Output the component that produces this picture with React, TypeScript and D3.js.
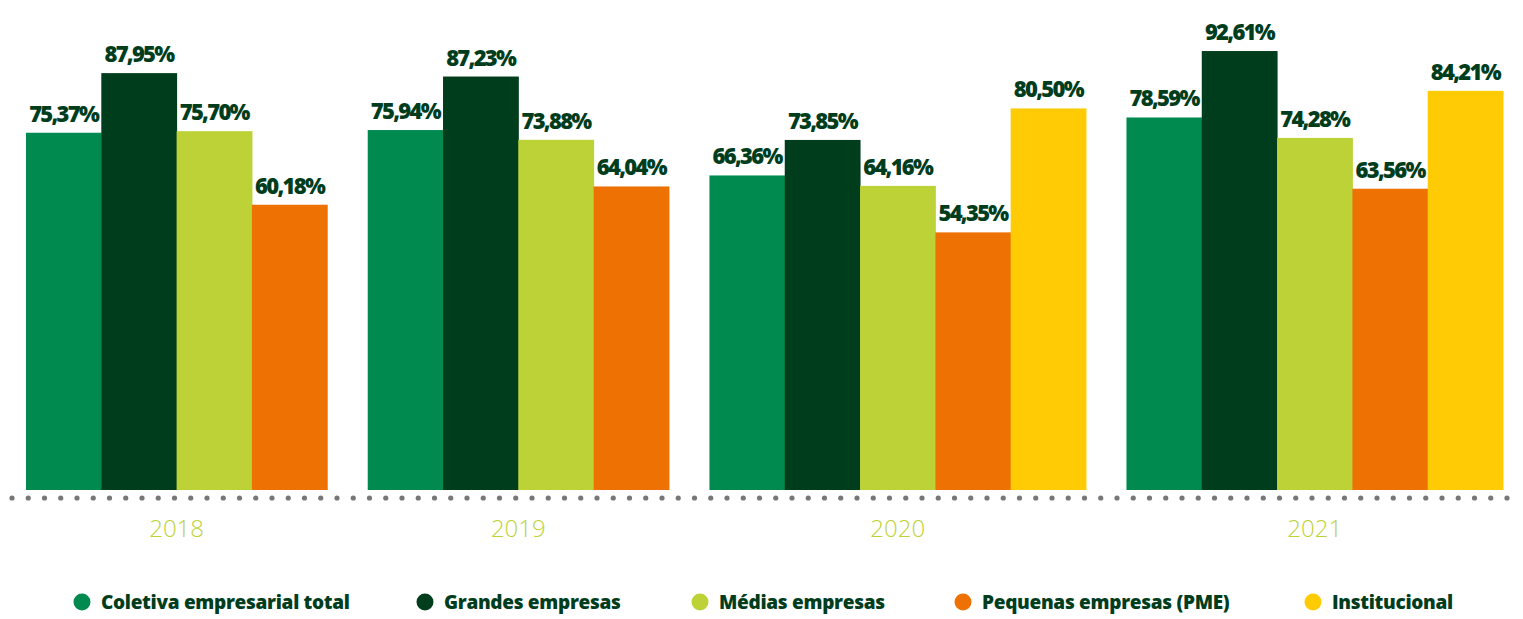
import React from "react";
import * as d3 from "d3";

const years = ["2018", "2019", "2020", "2021"];
const seriesNames = [
  "Coletiva empresarial total",
  "Grandes empresas",
  "Médias empresas",
  "Pequenas empresas (PME)",
  "Institucional",
];
const seriesColors = ["#008a4f", "#003d1c", "#bdd236", "#ed7203", "#ffcb05"];
// values per series, by year (null = not available)
const coletiva = [75.37, 75.94, 66.36, 78.59];
const grandes = [87.95, 87.23, 73.85, 92.61];
const medias = [75.7, 73.88, 64.16, 74.28];
const pequenas = [60.18, 64.04, 54.35, 63.56];
const institucional: (number | null)[] = [null, null, 80.5, 84.21];
const seriesValues: (number | null)[][] = [coletiva, grandes, medias, pequenas, institucional];
const legendX = [82, 425, 700, 963, 1313];

const W = 1523;
const H = 619;
const left = 26;
const right = 1503;
const baseline = 490;
const groupGap = 40.5;

const fmt = (v: number) => v.toFixed(2).replace(".", ",") + "%";

export default function App() {
  const y = d3.scaleLinear().domain([0, 100]).range([baseline, 16]);
  const groups = years.map((yr, i) => {
    const items = seriesValues
      .map((vals, s) => ({ s, v: vals[i] }))
      .filter((d) => d.v !== null) as { s: number; v: number }[];
    return { yr, items };
  });
  const totalBars = d3.sum(groups, (g) => g.items.length);
  const barW = (right - left - groupGap * (years.length - 1)) / totalBars;
  let cursor = left;
  const layout = groups.map((g) => {
    const w = g.items.length * barW;
    const x0 = cursor;
    cursor += w + groupGap;
    const xb = d3
      .scaleBand<number>()
      .domain(g.items.map((d) => d.s))
      .range([x0, x0 + w])
      .padding(0);
    return { ...g, x0, w, xb };
  });
  const dots = d3.range(12, 1523, 16.25);

  return (
    <svg width={W} height={H} style={{ display: "block", position: "absolute", left: 0, top: 0 }}>
      <rect width={W} height={H} fill="#fff" />
      {layout.map((g) => (
        <g key={g.yr}>
          {g.items.map((d) => (
            <g key={d.s}>
              <rect
                x={g.xb(d.s)!}
                y={y(d.v)}
                width={g.xb.bandwidth() + 0.5}
                height={baseline - y(d.v)}
                fill={seriesColors[d.s]}
              />
              <text
                x={g.xb(d.s)! + g.xb.bandwidth() / 2}
                y={y(d.v) - 11}
                textAnchor="middle"
                fontFamily="'Open Sans', sans-serif"
                fontWeight={800}
                fontSize={22}
                letterSpacing={-1.7}
                fill="#003d1c"
              >
                {fmt(d.v)}
              </text>
            </g>
          ))}
          <text
            x={g.x0 + g.w / 2}
            y={537}
            textAnchor="middle"
            fontFamily="'Open Sans', sans-serif"
            fontWeight={300}
            fontSize={24}
            fill="#bdd236"
          >
            {g.yr}
          </text>
        </g>
      ))}
      {dots.map((x, i) => (
        <circle key={i} cx={x} cy={498} r={2.6} fill="#777" />
      ))}
      {seriesNames.map((n, i) => (
        <g key={n}>
          <circle cx={legendX[i]} cy={602} r={8.5} fill={seriesColors[i]} />
          <text
            x={legendX[i] + 19}
            y={609}
            fontFamily="'Open Sans', sans-serif"
            fontWeight={800}
            fontSize={19}
            letterSpacing={-0.3}
            fill="#003d1c"
          >
            {n}
          </text>
        </g>
      ))}
    </svg>
  );
}
